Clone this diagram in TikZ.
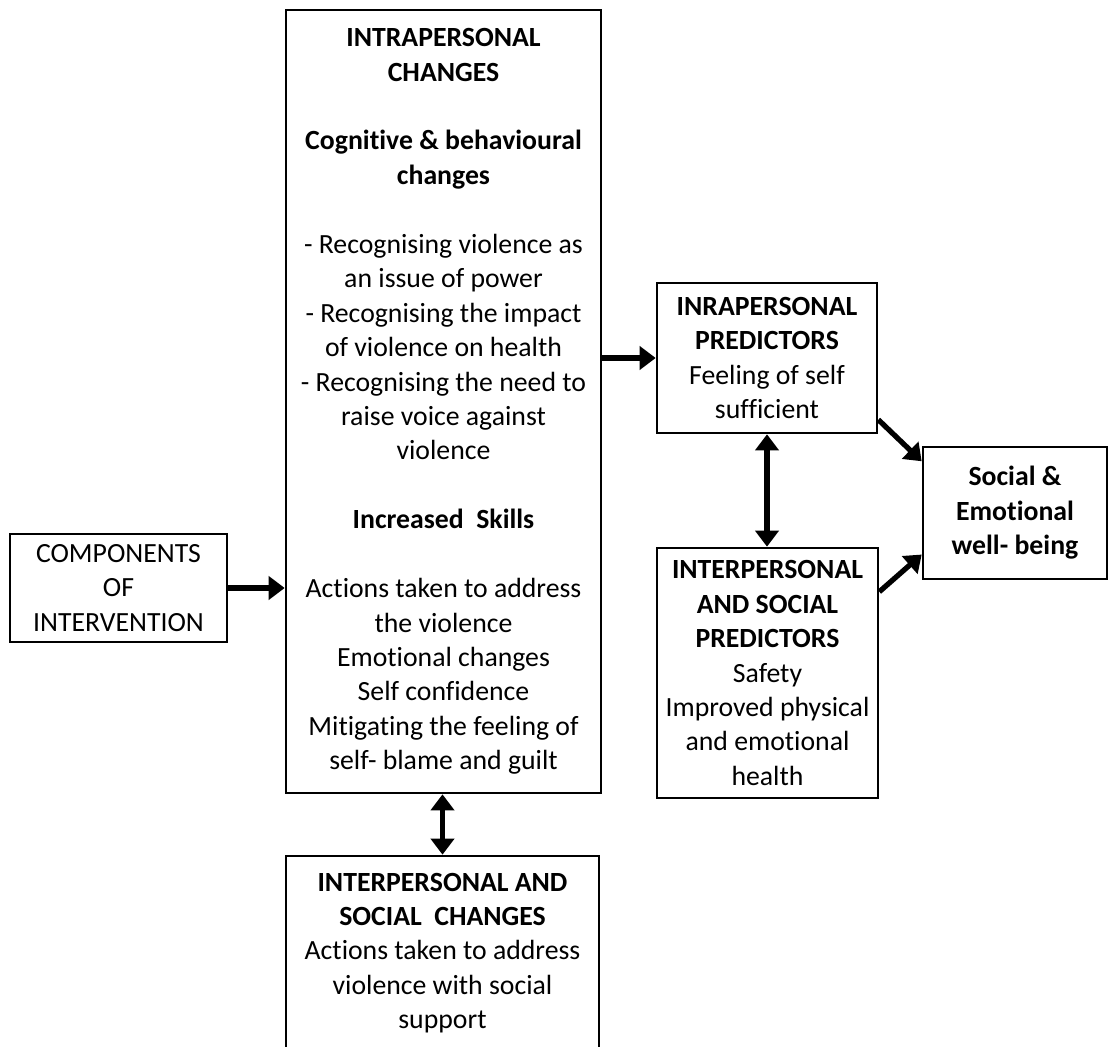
\documentclass[tikz,border=0pt]{standalone}
\usepackage{fontspec}
\setmainfont[Ligatures={NoCommon}]{Carlito}
\usetikzlibrary{arrows.meta}
\tikzset{
  box/.style={draw,line width=1.5pt,align=center,inner sep=0pt},
  conn/.style={line width=3pt,-{Triangle[length=0.32cm,width=0.46cm]}},
  twoway/.style={line width=3pt,{Triangle[length=0.32cm,width=0.46cm]}-{Triangle[length=0.32cm,width=0.46cm]}}
}
\begin{document}
\begin{tikzpicture}[x=0.02cm,y=-0.02cm,font=\fontsize{15.8}{19.6}\selectfont]
        \clip (0,0) rectangle (1109,1047);
        \node[box,minimum width=217*0.02cm,minimum height=108*0.02cm] (comp) at (118.5,588)
            {COMPONENTS\\OF\\INTERVENTION};
        \node[box,minimum width=315*0.02cm,minimum height=783*0.02cm] (main) at (443.5,401.5)
            {\textbf{INTRAPERSONAL}\\
             \textbf{CHANGES}\\[19.6pt]
             \textbf{Cognitive \& behavioural}\\
             \textbf{changes}\\[19.6pt]
             - Recognising violence as\\
             an issue of power\\
             - Recognising the impact\\
             of violence on health\\
             - Recognising the need to\\
             raise voice against\\
             violence\\[19.6pt]
             \textbf{Increased\ \ Skills}\\[19.6pt]
             Actions taken to address\\
             the violence\\
             Emotional changes\\
             Self confidence\\
             Mitigating the feeling of\\
             self- blame and guilt};
        \node[box,minimum width=220*0.02cm,minimum height=150*0.02cm] (inpred) at (767,358)
            {\textbf{INRAPERSONAL}\\\textbf{PREDICTORS}\\Feeling of self\\sufficient};
        \node[box,minimum width=221*0.02cm,minimum height=250*0.02cm] (intpred) at (767.5,673)
            {\textbf{INTERPERSONAL}\\\textbf{AND SOCIAL}\\\textbf{PREDICTORS}\\Safety\\Improved physical\\and emotional\\health};
        \node[box,minimum width=184*0.02cm,minimum height=132*0.02cm] (wellbeing) at (1015,513)
            {\textbf{Social \&}\\\textbf{Emotional}\\\textbf{well- being}};
        \node[box,minimum width=313*0.02cm,minimum height=194*0.02cm] (interch) at (442.5,953)
            {\textbf{INTERPERSONAL AND}\\\textbf{SOCIAL\ \ CHANGES}\\Actions taken to address\\violence with social\\support};
        % connectors
        \draw[conn] (comp.east) -- (comp.east -| main.west);
        \draw[conn] (main.east |- inpred.west) -- (inpred.west);
        \draw[twoway] (inpred.south) -- (inpred.south |- intpred.north);
        \draw[conn] (inpred.-29) -- (wellbeing.151);
        \draw[conn] (intpred.36) -- (wellbeing.204);
        \draw[twoway] (main.south -| interch.north) -- (interch.north);
\end{tikzpicture}
\end{document}
